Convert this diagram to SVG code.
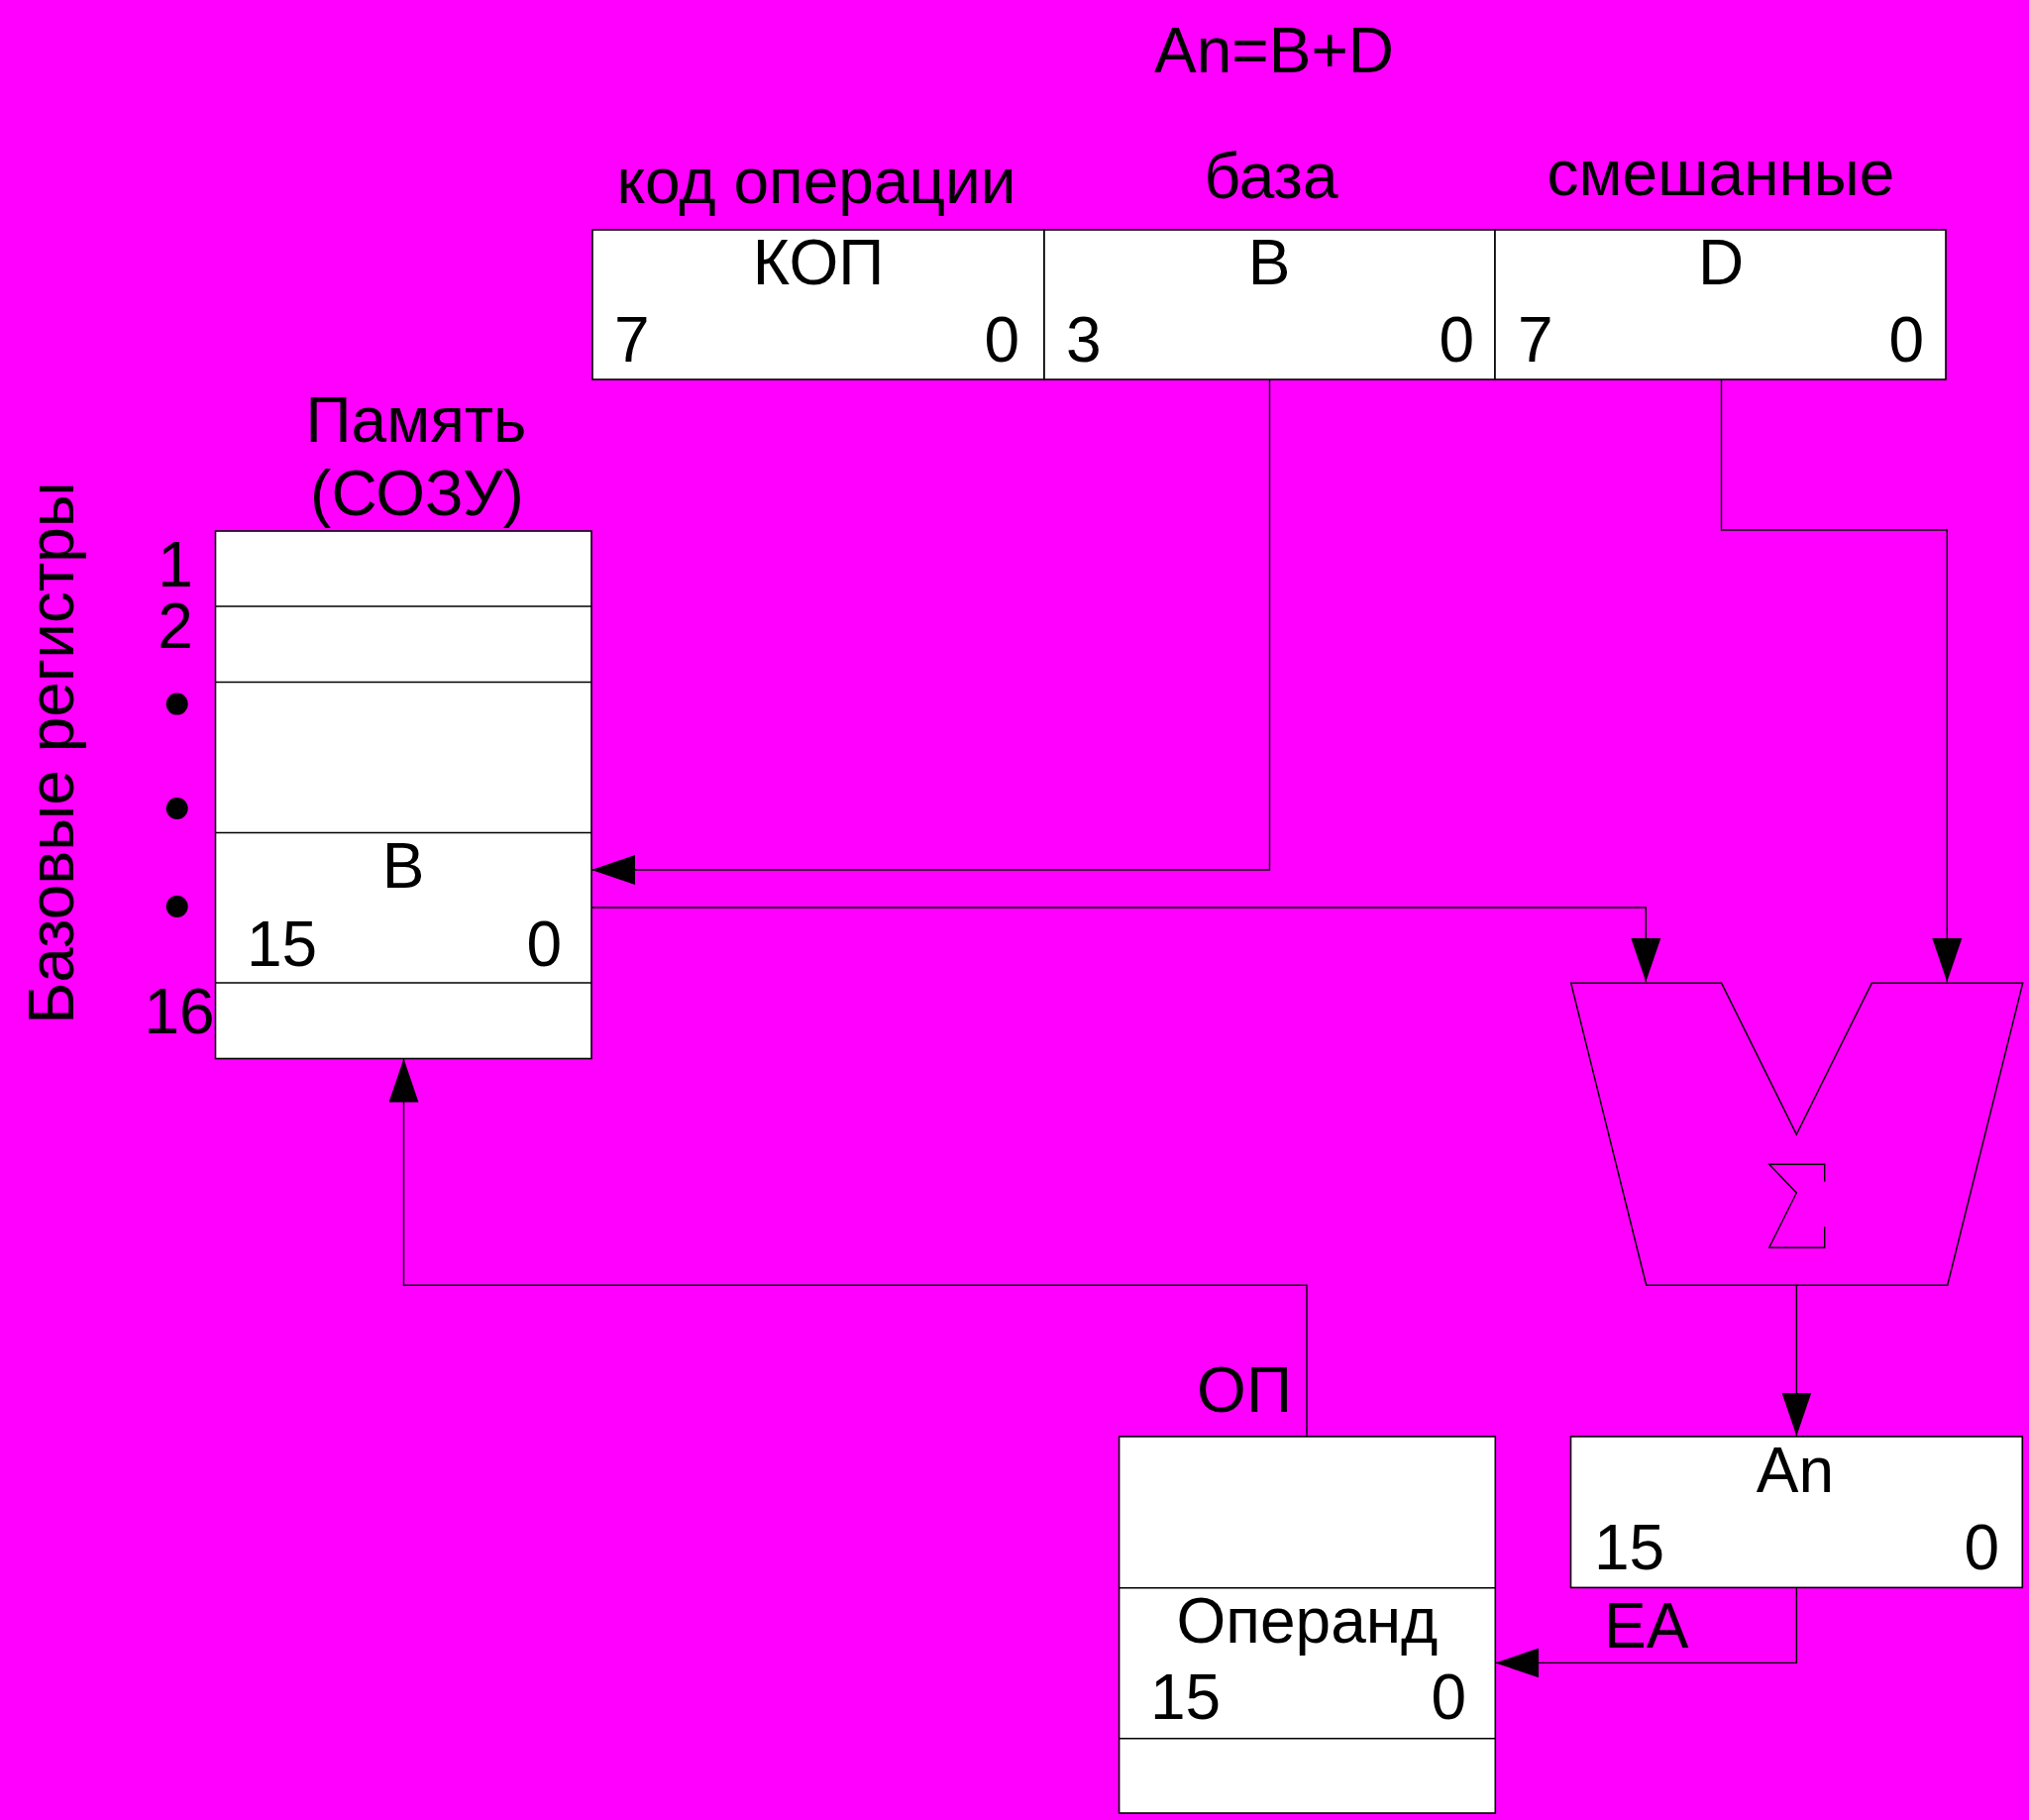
<svg xmlns="http://www.w3.org/2000/svg" width="2048" height="1837" viewBox="0 0 2048 1837">
<style>
text{font-family:"Liberation Sans",Arial,sans-serif;font-size:64px;fill:#000}
.m{text-anchor:middle}
.e{text-anchor:end}
.box{fill:#fff;stroke:#000;stroke-width:1.6}
.ln{fill:none;stroke:#000;stroke-width:1.5}
.c{fill:none;stroke:#000;stroke-width:1.4}
</style>
<defs>
<marker id="arr" viewBox="0 0 44 30" markerWidth="44" markerHeight="30" refX="44" refY="15" orient="auto" markerUnits="userSpaceOnUse">
<path d="M0,0 L44,15 L0,30 z" fill="#000"/>
</marker>
</defs>
<rect x="0" y="0" width="2048" height="1837" fill="#FF00FF"/>

<g id="title"><text class="m" x="1286" y="73">An=B+D</text></g>

<g id="instruction">
<text class="m" x="824" y="205">код операции</text>
<text class="m" x="1283" y="200">база</text>
<text class="m" x="1737" y="197">смешанные</text>
<rect class="box" x="598" y="232" width="456" height="151"/>
<rect class="box" x="1054" y="232" width="455" height="151"/>
<rect class="box" x="1509" y="232" width="455" height="151"/>
<text class="m" x="826" y="287">КОП</text>
<text class="m" x="1281" y="287">B</text>
<text class="m" x="1737" y="287">D</text>
<text x="620" y="365">7</text>
<text class="e" x="1029" y="365">0</text>
<text x="1076" y="365">3</text>
<text class="e" x="1488" y="365">0</text>
<text x="1532" y="365">7</text>
<text class="e" x="1942" y="365">0</text>
</g>

<g id="memory">
<text class="m" x="420" y="446">Память</text>
<text class="m" x="421" y="520">(СОЗУ)</text>
<rect class="box" x="217.5" y="536" width="379.5" height="532.5"/>
<line class="ln" x1="217.5" y1="612" x2="597" y2="612"/>
<line class="ln" x1="217.5" y1="688.5" x2="597" y2="688.5"/>
<line class="ln" x1="217.5" y1="840.5" x2="597" y2="840.5"/>
<line class="ln" x1="217.5" y1="992" x2="597" y2="992"/>
<text class="m" x="407" y="896">B</text>
<text x="249" y="975">15</text>
<text class="e" x="567" y="975">0</text>
</g>

<g id="registers-label">
<text class="m" transform="translate(74,760) rotate(-90)">Базовые регистры</text>
<text class="m" x="177" y="592">1</text>
<text class="m" x="177" y="654">2</text>
<circle cx="178.7" cy="710.6" r="11"/>
<circle cx="178.7" cy="816" r="11"/>
<circle cx="178.7" cy="915" r="11"/>
<text class="m" x="181" y="1043">16</text>
</g>

<g id="adder">
<polygon class="ln" points="1585.7,992.3 1737.7,992.3 1813.3,1145 1889.3,992.3 2041.7,992.3 1965.7,1297.3 1661.7,1297.3"/>
<polyline class="c" points="1841.7,1192.7 1841.7,1175.3 1785.7,1175.3 1813.3,1204 1785.7,1259.3 1841.7,1259.3 1841.7,1238.3"/>
</g>

<g id="an-register">
<rect class="box" x="1585.5" y="1450" width="455.8" height="152.4"/>
<text class="m" x="1812" y="1506">An</text>
<text x="1609" y="1584">15</text>
<text class="e" x="2018" y="1584">0</text>
</g>

<g id="operand-memory">
<text class="m" x="1256" y="1425">ОП</text>
<rect class="box" x="1129.6" y="1450" width="379.7" height="380"/>
<line class="ln" x1="1129.6" y1="1602.7" x2="1509.3" y2="1602.7"/>
<line class="ln" x1="1129.6" y1="1754.8" x2="1509.3" y2="1754.8"/>
<text class="m" x="1319.5" y="1658">Операнд</text>
<text x="1161" y="1735">15</text>
<text class="e" x="1480" y="1735">0</text>
</g>

<g id="ea-label"><text x="1619" y="1663">EA</text></g>

<g id="connectors">
<path class="c" d="M1281.5,383 V878 H597" marker-end="url(#arr)"/>
<path class="c" d="M1737.5,383 V535 H1965.3 V991" marker-end="url(#arr)"/>
<path class="c" d="M597,916 H1661.3 V991" marker-end="url(#arr)"/>
<path class="c" d="M1813.4,1297.3 V1449.5" marker-end="url(#arr)"/>
<path class="c" d="M1813.4,1602.4 V1678.4 H1509.3" marker-end="url(#arr)"/>
<path class="c" d="M1319,1450 V1297.3 H407.5 V1068.5" marker-end="url(#arr)"/>
</g>
</svg>
